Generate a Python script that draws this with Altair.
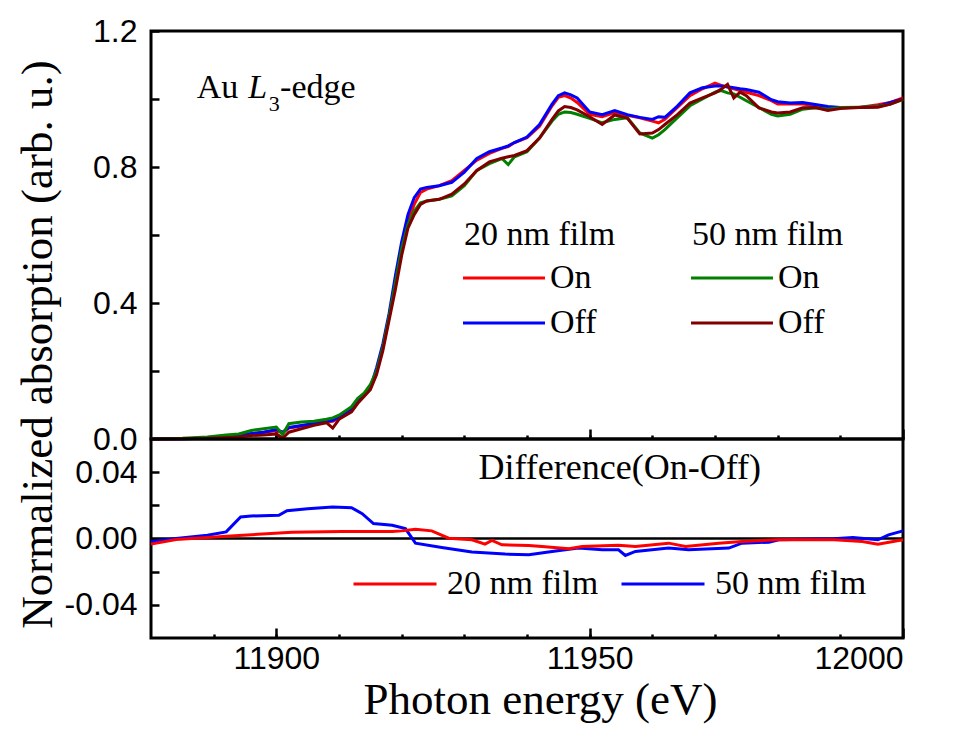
import altair as alt
import pandas as pd

# ---------------- data ----------------
energy = [11880, 11885, 11889, 11892, 11894, 11896, 11898, 11900, 11901, 11902,
          11904, 11906, 11908, 11909, 11910, 11912, 11913, 11914, 11915, 11916,
          11917, 11918, 11919, 11920, 11921, 11922, 11923, 11924, 11926, 11928,
          11930, 11932, 11934, 11936, 11937, 11938, 11940, 11942, 11944, 11945,
          11946, 11947, 11948, 11950, 11952, 11954, 11956, 11958, 11960, 11961,
          11962, 11964, 11966, 11968, 11970, 11971, 11972, 11973, 11974, 11975,
          11977, 11979, 11980, 11982, 11984, 11986, 11988, 11990, 11993, 11996,
          11998, 12000]

on_20 = [0, .001, .003, .008, .012, .015, .02, .025, .018, .032, .038, .045, .05, .052, .062,
         .09, .115, .13, .15, .2, .27, .36, .46, .56, .64, .69, .725, .735, .745, .76,
         .79, .82, .84, .855, .86, .872, .886, .92, .98, 1.005, 1.01, 1.003, .99, .955, .948,
         .96, .952, .945, .935, .93, .94, .975, 1.01, 1.03, 1.047, 1.04, 1.035, 1.03, 1.025, 1.02,
         1.01, .995, .985, .985, .985, .98, .976, .975, .975, .983, .99, 1.003]
off_20 = [0, .001, .002, .006, .012, .016, .02, .028, .02, .034, .04, .046, .052, .055, .065,
          .09, .11, .13, .15, .21, .28, .37, .48, .58, .66, .71, .735, .74, .745, .755,
          .785, .825, .845, .856, .862, .872, .888, .925, .985, 1.01, 1.018, 1.012, 1.003, .962, .954,
          .966, .954, .946, .94, .948, .946, .979, 1.018, 1.033, 1.038, 1.038, 1.036, 1.033, 1.03, 1.028,
          1.02, .998, .992, .988, .99, .984, .978, .975, .975, .978, .99, 1.0]
on_50 = [0, .002, .006, .012, .015, .025, .03, .035, .013, .045, .05, .052, .058, .062, .07,
         .095, .12, .135, .16, .2, .27, .36, .46, .56, .63, .67, .695, .70, .705, .715,
         .745, .79, .81, .825, .807, .83, .845, .885, .935, .955, .962, .96, .955, .943, .93,
         .94, .945, .9, .885, .895, .91, .945, .98, 1.0, 1.02, 1.025, 1.018, 1.015, 1.005, .995,
         .975, .955, .95, .955, .97, .974, .97, .975, .976, .978, .985, .998]
off_50 = [0, .001, .002, .004, .006, .01, .012, .015, .002, .02, .03, .04, .048, .032, .058,
          .08, .105, .125, .145, .19, .26, .35, .44, .54, .62, .66, .69, .70, .705, .72,
          .75, .79, .815, .826, .83, .834, .848, .885, .94, .965, .978, .975, .968, .948, .925,
          .953, .944, .897, .9, .91, .925, .954, .988, 1.003, 1.018, 1.029, 1.043, 1.003, 1.02, 1.01,
          .974, .962, .959, .962, .974, .975, .966, .972, .975, .976, .985, 1.0]

diff_e_50 = [11880, 11884, 11889, 11892, 11894.3, 11896, 11900.4, 11901.7, 11905, 11909,
             11912, 11913.7, 11915.5, 11918.5, 11920.6, 11922.2, 11926.4, 11931.2, 11936.5, 11940.3,
             11944, 11948.2, 11952, 11954.6, 11955.7, 11957.3, 11962.6, 11965.8, 11972.2, 11974.3,
             11978.6, 11980.2, 11989, 11992, 11996, 11997.7, 12000]
diff_50 = [-0.002, 0.0, 0.002, 0.004, 0.013, 0.0136, 0.014, 0.0168, 0.018, 0.019,
           0.0186, 0.015, 0.009, 0.008, 0.006, -0.0028, -0.0054, -0.0082, -0.0094, -0.0098,
           -0.0078, -0.0058, -0.0068, -0.0068, -0.0102, -0.0078, -0.0058, -0.0068, -0.0058, -0.0028,
           -0.0022, -0.0008, -0.0002, 0.0006, -0.0008, 0.0022, 0.0046]
diff_e_20 = [11880, 11884, 11889, 11894, 11902.5, 11910.5, 11918.5, 11920, 11922.2, 11924.8,
             11927.5, 11931.2, 11933.3, 11934.4, 11936, 11940.3, 11942.4, 11946.7, 11948.8, 11954.6,
             11957.3, 11962.6, 11965.3, 11970.6, 11974.3, 11979.6, 11989, 11993.5, 11996, 12000]
diff_20 = [-0.0034, -0.0006, 0.0006, 0.0018, 0.0038, 0.0042, 0.0042, 0.0046, 0.0056, 0.0046,
           0.0002, -0.0008, -0.0034, -0.0012, -0.0038, -0.0042, -0.0048, -0.0062, -0.0048, -0.004,
           -0.0048, -0.0028, -0.0048, -0.0028, -0.0018, -0.0008, -0.0008, -0.0018, -0.0034, -0.0008]

x_domain = [11880, 12000]
top_domain = [0, 1.2]
bot_domain = [-0.06, 0.06]
major_x = [11900, 11950, 12000]
minor_x = [11890, 11900, 11910, 11920, 11930, 11940, 11950, 11960, 11970, 11980, 11990]
top_y_ticks = [0, 0.2, 0.4, 0.6, 0.8, 1.0, 1.2]
bot_y_ticks = [-0.04, -0.02, 0.0, 0.02, 0.04]
states = ["On", "Off"]
films = ["20 nm film", "50 nm film"]

# ---------------- tables ----------------
n = len(energy)
df20 = pd.DataFrame({"E": energy * 2, "A": on_20 + off_20, "state": ["On"] * n + ["Off"] * n})
df50 = pd.DataFrame({"E": energy * 2, "A": on_50 + off_50, "state": ["On"] * n + ["Off"] * n})
d50 = pd.DataFrame({"E": diff_e_50, "D": diff_50, "film": films[1]})
d20 = pd.DataFrame({"E": diff_e_20, "D": diff_20, "film": films[0]})

SERIF = "Liberation Serif"
SANS = "Liberation Sans"
W, H_TOP, H_BOT = 752, 408, 199

xscale = alt.Scale(domain=x_domain, nice=False, zero=False)
ytop = alt.Scale(domain=top_domain, nice=False, zero=False)
ybot = alt.Scale(domain=bot_domain, nice=False, zero=False)


def major_axis(labels):
    kw = dict(orient="bottom", offset=-10, tickSize=10, values=major_x, domain=False, grid=False)
    if labels:
        return alt.Axis(labels=True, format="d", labelPadding=5, title="Photon energy (eV)",
                        titleX=389, titleY=49, titleAlign="center", titleBaseline="top", **kw)
    return alt.Axis(labels=False, title=None, **kw)


minor_axis = alt.Axis(orient="bottom", offset=-4, tickSize=4, values=minor_x, labels=False,
                      title=None, domain=False, grid=False)

y_top_axis = alt.Axis(orient="left", offset=-8, tickSize=8, values=top_y_ticks, domain=False, grid=False,
                      labelExpr="(round(datum.value*10) % 4 == 0) ? format(datum.value, '.1f') : ''",
                      labelPadding=14, title="Normalized absorption (arb. u.)",
                      titleX=-99, titleY=313, titleAngle=270, titleBaseline="bottom",
                      titleAlign="center")
y_bot_axis = alt.Axis(orient="left", offset=-8, tickSize=8, values=bot_y_ticks, domain=False, grid=False,
                      labelExpr="abs(datum.value) > 0.03 || abs(datum.value) < 0.001 ? "
                                "replace(format(datum.value, '.2f'), '\u2212', '-') : ''",
                      labelPadding=14, title=None)


def film_legend(title, lx):
    # long horizontal stroke drawn from a short symbol box so rows stay compact
    return alt.Legend(title=title, orient="none", legendX=lx, legendY=187, padding=0,
                      symbolType="M-8,0H8", symbolSize=105, symbolStrokeWidth=3,
                      symbolOffset=23, labelOffset=29, titlePadding=9, rowPadding=11)


lines20 = alt.Chart(df20).mark_line(strokeWidth=3).encode(
    x=alt.X("E:Q", scale=xscale, axis=major_axis(False)),
    y=alt.Y("A:Q", scale=ytop, axis=y_top_axis),
    color=alt.Color("state:N", sort=states,
                    scale=alt.Scale(domain=states, range=["#ff0000", "#0000ff"]),
                    legend=film_legend("20 nm film", 313)),
)
lines50 = alt.Chart(df50).mark_line(strokeWidth=3).encode(
    x=alt.X("E:Q", scale=xscale, axis=minor_axis),
    y=alt.Y("A:Q", scale=ytop, axis=None),
    color=alt.Color("state:N", sort=states,
                    scale=alt.Scale(domain=states, range=["#008000", "#800000"]),
                    legend=film_legend("50 nm film", 541)),
)

label_normal = pd.DataFrame({"E": [11887.3, 11900.6], "A": [1.003, 1.003], "t": ["Au", "-edge"]})
label_italic = pd.DataFrame({"E": [11895.5], "A": [1.003], "t": ["L"]})
label_sub = pd.DataFrame({"E": [11898.8], "A": [0.964], "t": ["3"]})


def text_layer(df, size, style="normal", yscale=ytop, yfield="A", align="left"):
    return alt.Chart(df).mark_text(font=SERIF, fontSize=size, fontStyle=style, color="black",
                                   align=align, baseline="alphabetic").encode(
        x=alt.X("E:Q", scale=xscale, axis=None),
        y=alt.Y(f"{yfield}:Q", scale=yscale, axis=None),
        text="t:N",
    )


top = alt.layer(
    lines20, lines50,
    text_layer(label_normal, 34),
    text_layer(label_italic, 34, "italic"),
    text_layer(label_sub, 22),
).resolve_scale(color="independent").resolve_axis(x="independent", y="independent").properties(
    width=W, height=H_TOP)

diff_scale = alt.Scale(domain=films, range=["#ff0000", "#0000ff"])
diff_legend = alt.Legend(title=None, orient="none", direction="horizontal", legendX=201, legendY=510,
                         padding=0, symbolType="stroke", symbolSize=6889, symbolStrokeWidth=3,
                         labelOffset=9, columnPadding=16)

zero = alt.Chart(pd.DataFrame({"D": [0.0]})).mark_rule(color="black", strokeWidth=2.5).encode(
    y=alt.Y("D:Q", scale=ybot, axis=None))
b50 = alt.Chart(d50).mark_line(strokeWidth=3).encode(
    x=alt.X("E:Q", scale=xscale, axis=major_axis(True)),
    y=alt.Y("D:Q", scale=ybot, axis=y_bot_axis),
    color=alt.Color("film:N", scale=diff_scale, legend=diff_legend),
)
b20 = alt.Chart(d20).mark_line(strokeWidth=3).encode(
    x=alt.X("E:Q", scale=xscale, axis=minor_axis),
    y=alt.Y("D:Q", scale=ybot, axis=None),
    color=alt.Color("film:N", scale=diff_scale, legend=diff_legend),
)
diff_label = pd.DataFrame({"E": [11954.8], "D": [0.0357], "t": ["Difference(On-Off)"]})

bottom = alt.layer(
    zero, b50, b20, text_layer(diff_label, 36, yscale=ybot, yfield="D", align="center")
).resolve_axis(x="independent", y="independent").properties(width=W, height=H_BOT)

chart = alt.vconcat(top, bottom, spacing=0, bounds="flush").properties(
    padding={"left": 5, "top": 5, "right": 5, "bottom": 0}
).configure_view(stroke="black", strokeWidth=3).configure_axis(
    labelFont=SANS, labelFontSize=32, labelColor="black", tickColor="black", tickWidth=2.5,
    titleFont=SERIF, titleFontSize=45, titleFontWeight="normal", titleColor="black",
).configure_legend(
    labelFont=SERIF, labelFontSize=34, labelColor="black", titleFont=SERIF, titleFontSize=34,
    titleFontWeight="normal", titleColor="black",
)

chart.save("out.html", embed_options={"renderer": "svg", "actions": False})
